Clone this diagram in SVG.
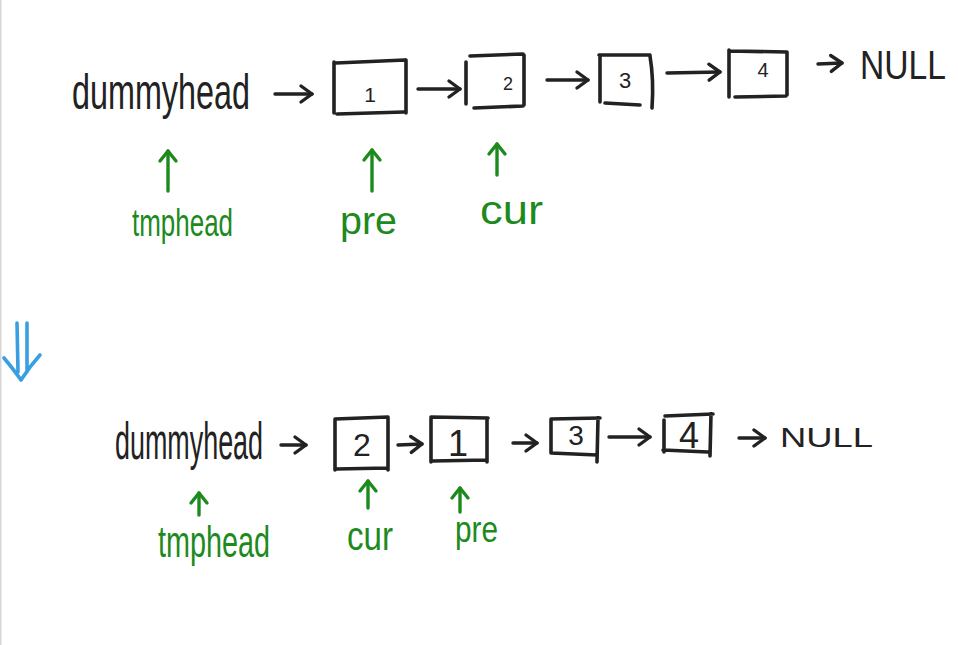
<svg xmlns="http://www.w3.org/2000/svg" width="958" height="645" viewBox="0 0 958 645">
<defs>
<style>
.ink{fill:none;stroke:#222;stroke-width:3.6;stroke-linecap:round;stroke-linejoin:round}
.arr{fill:none;stroke:#222;stroke-width:3.4;stroke-linecap:round}
.garr{fill:none;stroke:#1d8a1d;stroke-width:3.4;stroke-linecap:round}
.txt{font-family:"Liberation Sans","DejaVu Sans",sans-serif;fill:#222}
.gtxt{font-family:"Liberation Sans","DejaVu Sans",sans-serif;fill:#1d8a1d}
.num{font-family:"Liberation Sans","DejaVu Sans",sans-serif;fill:#222;text-anchor:middle}
</style>
<marker id="hk" markerUnits="userSpaceOnUse" markerWidth="24" markerHeight="24" viewBox="-14 -12 18 24" refX="0" refY="0" orient="auto">
<path d="M-11 -8 L0 0 L-11 8" fill="none" stroke="#222" stroke-width="3.4" stroke-linecap="round" stroke-linejoin="round"/>
</marker>
<marker id="hg" markerUnits="userSpaceOnUse" markerWidth="24" markerHeight="24" viewBox="-14 -12 18 24" refX="0" refY="0" orient="auto">
<path d="M-10 -8 L0 0 L-10 8" fill="none" stroke="#1d8a1d" stroke-width="3.4" stroke-linecap="round" stroke-linejoin="round"/>
</marker>
</defs>
<rect x="0" y="0" width="958" height="645" fill="#fff"/>
<rect x="0" y="0" width="1.5" height="645" fill="#d6d6d6"/>

<g id="top-dummyhead"><text class="txt" x="72" y="109" font-size="50" textLength="178" lengthAdjust="spacingAndGlyphs">dummyhead</text></g>
<g id="top-node1"><path class="ink" d="M334 62 L334 113 M336 63 L405 60 M406 60 L406 113 M337 114 L404 112"/><text class="num" x="370" y="102" font-size="21">1</text></g>
<g id="top-node2"><path class="ink" d="M466 62 L466 104 M470 56 L523 54 M524 55 L524 105 M474 108 L523 106"/><text class="num" x="508" y="90" font-size="18">2</text></g>
<g id="top-node3"><path class="ink" d="M600 57 L600 102 M599 55 L650 55 M650 56 Q654 80 652 108 M605 103 L640 105"/><text class="num" x="625" y="88" font-size="22">3</text></g>
<g id="top-node4"><path class="ink" d="M729 50 L729 97 M729 51 L787 52 M787 52 L787 95 M735 97 L786 96"/><text class="num" x="763" y="77" font-size="20">4</text></g>
<g id="top-null"><text class="txt" x="860" y="79" font-size="40" textLength="86" lengthAdjust="spacingAndGlyphs">NULL</text></g>
<g id="top-tmphead"><text class="gtxt" x="132" y="236" font-size="38" textLength="101" lengthAdjust="spacingAndGlyphs">tmphead</text></g>
<g id="top-pre"><text class="gtxt" x="340" y="234" font-size="38" textLength="57" lengthAdjust="spacingAndGlyphs">pre</text></g>
<g id="top-cur"><text class="gtxt" x="480" y="224" font-size="40" textLength="63" lengthAdjust="spacingAndGlyphs">cur</text></g>

<g id="bot-dummyhead"><text class="txt" x="115" y="459" font-size="52" textLength="148" lengthAdjust="spacingAndGlyphs">dummyhead</text></g>
<g id="bot-node2"><path class="ink" d="M335 420 L335 470 M335 419 L388 417 M388 418 L388 470 M336 469 L388 468"/><text class="num" x="362" y="456" font-size="32">2</text></g>
<g id="bot-node1"><path class="ink" d="M431 418 L431 462 M431 417 L488 418 M487 418 L487 462 M432 461 L487 460"/><text class="num" x="458" y="456" font-size="36">1</text></g>
<g id="bot-node3"><path class="ink" d="M551 420 L551 453 M551 419 L600 418 M598 418 L597 462 M551 453 L597 455"/><text class="num" x="576" y="445" font-size="28">3</text></g>
<g id="bot-node4"><path class="ink" d="M664 420 L664 452 M665 416 L713 414 M711 414 L710 456 M663 450 L708 452"/><text class="num" x="689" y="448" font-size="36">4</text></g>
<g id="bot-null"><text class="txt" x="780" y="447" font-size="28" textLength="93" lengthAdjust="spacingAndGlyphs">NULL</text></g>
<g id="bot-tmphead"><text class="gtxt" x="158" y="557" font-size="44" textLength="112" lengthAdjust="spacingAndGlyphs">tmphead</text></g>
<g id="bot-cur"><text class="gtxt" x="347" y="550" font-size="40" textLength="46" lengthAdjust="spacingAndGlyphs">cur</text></g>
<g id="bot-pre"><text class="gtxt" x="455" y="542" font-size="36" textLength="43" lengthAdjust="spacingAndGlyphs">pre</text></g>

<g id="transition"><path d="M17 323 L18 372 M27 323 L27 372 M4 358 Q14 370 21 380 Q30 366 40 355" fill="none" stroke="#3a9fe0" stroke-width="3.6" stroke-linecap="round" stroke-linejoin="round"/></g>

<g id="connectors">
<path class="arr" marker-end="url(#hk)" d="M275 94 L312 94"/>
<path class="arr" marker-end="url(#hk)" d="M418 89 L460 89"/>
<path class="arr" marker-end="url(#hk)" d="M547 80 L588 80"/>
<path class="arr" marker-end="url(#hk)" d="M667 73 L720 72"/>
<path class="arr" marker-end="url(#hk)" d="M818 64 L842 63"/>
<path class="arr" marker-end="url(#hk)" d="M281 445 L306 445"/>
<path class="arr" marker-end="url(#hk)" d="M398 445 L422 444"/>
<path class="arr" marker-end="url(#hk)" d="M513 443 L537 443"/>
<path class="arr" marker-end="url(#hk)" d="M609 437 L650 437"/>
<path class="arr" marker-end="url(#hk)" d="M739 438 L765 438"/>
<path class="garr" marker-end="url(#hg)" d="M168 191 L168 151"/>
<path class="garr" marker-end="url(#hg)" d="M372 191 L372 150"/>
<path class="garr" marker-end="url(#hg)" d="M497 175 L497 144"/>
<path class="garr" marker-end="url(#hg)" d="M199 515 L199 493"/>
<path class="garr" marker-end="url(#hg)" d="M368 508 L368 481"/>
<path class="garr" marker-end="url(#hg)" d="M460 512 L460 488"/>
</g>
</svg>
